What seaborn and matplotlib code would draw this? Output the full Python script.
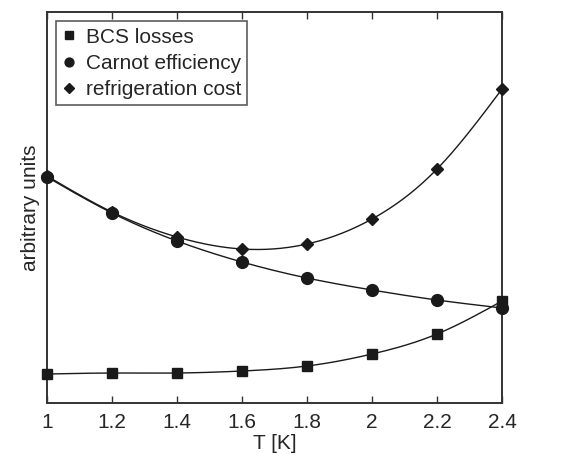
import numpy as np
import pandas as pd
import matplotlib
matplotlib.use("Agg")
import matplotlib.pyplot as plt
from matplotlib.lines import Line2D
import seaborn as sns

# Temperatures and curve values (arbitrary units)
temperature = [1.0, 1.2, 1.4, 1.6, 1.8, 2.0, 2.2, 2.4]
bcs_losses = [29, 30, 30, 32, 37, 49, 69, 102]
carnot_efficiency = [226, 190, 162, 141, 125, 113, 103, 95]
refrigeration_cost = [227, 191, 166, 154, 159, 184, 234, 314]
x_ticks = [1, 1.2, 1.4, 1.6, 1.8, 2, 2.2, 2.4]
x_tick_labels = ["1", "1.2", "1.4", "1.6", "1.8", "2", "2.2", "2.4"]


def natural_spline(x, y, n=300):
    """Natural cubic spline through (x, y), evaluated on a fine grid."""
    x = np.asarray(x, float)
    y = np.asarray(y, float)
    k = len(x)
    h = np.diff(x)
    A = np.zeros((k, k))
    r = np.zeros(k)
    A[0, 0] = A[-1, -1] = 1.0
    for i in range(1, k - 1):
        A[i, i - 1] = h[i - 1]
        A[i, i] = 2 * (h[i - 1] + h[i])
        A[i, i + 1] = h[i]
        r[i] = 3 * ((y[i + 1] - y[i]) / h[i] - (y[i] - y[i - 1]) / h[i - 1])
    c = np.linalg.solve(A, r)
    b = (np.diff(y) / h) - h * (2 * c[:-1] + c[1:]) / 3
    d = np.diff(c) / (3 * h)
    xs = np.linspace(x[0], x[-1], n)
    idx = np.clip(np.searchsorted(x, xs, side="right") - 1, 0, k - 2)
    t = xs - x[idx]
    ys = y[idx] + b[idx] * t + c[idx] * t ** 2 + d[idx] * t ** 3
    return xs, ys


sns.set_theme(style="white")
plt.rcParams["font.family"] = ["Liberation Sans", "DejaVu Sans"]

fig = plt.figure(figsize=(5.66, 4.54), dpi=100)
ax = fig.add_axes([0.083, 0.1123, 0.804, 0.8613])

series = [
    ("BCS losses", bcs_losses, "s", 7),
    ("Carnot efficiency", carnot_efficiency, "o", 8.5),
    ("refrigeration cost", refrigeration_cost, "D", 6.5),
]

handles = []
for name, values, marker, size in series:
    xs, ys = natural_spline(temperature, values)
    sns.lineplot(x=xs, y=ys, ax=ax, color="#1a1a1a", linewidth=1.0,
                 zorder=2, legend=False)
    df = pd.DataFrame({"T": temperature, "v": values})
    ax.plot(df["T"], df["v"], linestyle="none", marker=marker,
            markersize=size, color="#1a1a1a", zorder=3, clip_on=False)
    handles.append(Line2D([], [], linestyle="none", marker=marker,
                          markersize=size * 0.75, color="#1a1a1a", label=name))

ax.set_xlim(1, 2.4)
ax.set_ylim(0, 391)
ax.set_xticks(x_ticks)
ax.set_xticklabels(x_tick_labels)
ax.set_yticks([])
ax.tick_params(axis="x", direction="in", length=5, width=1, top=True,
               bottom=True, labelsize=15, pad=7, color="#333333")
for sp in ax.spines.values():
    sp.set_color("#333333")
    sp.set_linewidth(1.4)

ax.set_xlabel("T [K]", fontsize=15, labelpad=1.5)
ax.set_ylabel("arbitrary units", fontsize=15, labelpad=5)

leg = ax.legend(handles=handles, loc="upper left", fontsize=15,
                frameon=True, fancybox=False, edgecolor="#333333",
                handlelength=0.6, handletextpad=0.5, borderpad=0.3,
                labelspacing=0.35, borderaxespad=0.45)
leg.get_frame().set_linewidth(1.2)

fig.savefig("out.png", dpi=100, facecolor="white")
